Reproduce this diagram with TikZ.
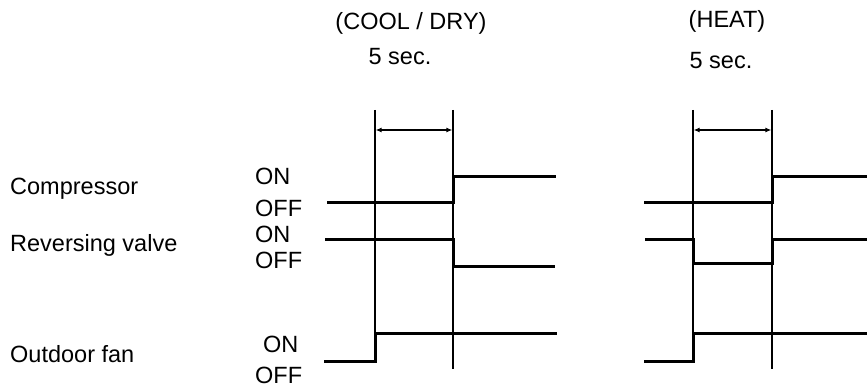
\documentclass[tikz,border=0pt]{standalone}
\usepackage{fontspec}
\setmainfont{Liberation Sans}
\usetikzlibrary{arrows.meta}
\begin{document}
\begin{tikzpicture}[x=1pt,y=-1pt,
  lbl/.style={inner sep=0pt,anchor=base west,font=\fontsize{23.5}{28}\selectfont},
  ttl/.style={inner sep=0pt,anchor=base,font=\fontsize{23.5}{28}\selectfont},
  sig/.style={line width=3pt,line cap=butt,line join=miter},
  guide/.style={line width=1.2pt},
  dim/.style={line width=1.2pt,{Latex[length=6pt,width=5pt]}-{Latex[length=6pt,width=5pt]},shorten <=0.6pt,shorten >=0.6pt}]
\useasboundingbox (0,0) rectangle (867,387);
% labels
\node[lbl] (comp) at (10,195) {Compressor};
\node[lbl] (rev) at (10,252) {Reversing valve};
\node[lbl] (fan) at (10,362) {Outdoor fan};
\node[lbl] (on1) at (255,185) {ON};
\node[lbl] (off1) at (255,217) {OFF};
\node[lbl] (on2) at (255,243) {ON};
\node[lbl] (off2) at (255,269) {OFF};
\node[lbl] (on3) at (263,352) {ON};
\node[lbl] (off3) at (255,383) {OFF};
\node[ttl] (cool) at (411,30) {(COOL / DRY)};
\node[ttl] (secA) at (400,65) {5 sec.};
\node[ttl] (heat) at (727,28) {(HEAT)};
\node[ttl] (secB) at (721,69) {5 sec.};
% guide coordinates
\coordinate (a1t) at (375,110); \coordinate (a1b) at (375,333);
\coordinate (a2t) at (453,110); \coordinate (a2b) at (453,369);
\coordinate (b1t) at (693,110); \coordinate (b1b) at (693,333);
\coordinate (b2t) at (772,110); \coordinate (b2b) at (772,369);
\draw[guide] (a1t) -- (a1b);
\draw[guide] (a2t) -- (a2b);
\draw[guide] (b1t) -- (b1b);
\draw[guide] (b2t) -- (b2b);
\coordinate (da1) at (375,130); \coordinate (da2) at (453,130);
\coordinate (db1) at (693,130); \coordinate (db2) at (772,130);
\draw[dim] (da1) -- (da2);
\draw[dim] (db1) -- (db2);
% COOL / DRY signals
\draw[sig] (327,203) -- (453,203) -- (453,177) -- (556,177);
\draw[sig] (325,240) -- (453,240) -- (453,267) -- (555,267);
\draw[sig] (324,361) -- (375,361) -- (375,333) -- (557,333);
% HEAT signals
\draw[sig] (644,203) -- (772,203) -- (772,177) -- (867,177);
\draw[sig] (645,240) -- (693,240) -- (693,264) -- (772,264) -- (772,240) -- (867,240);
\draw[sig] (644,361) -- (693,361) -- (693,333) -- (867,333);
\end{tikzpicture}
\end{document}
